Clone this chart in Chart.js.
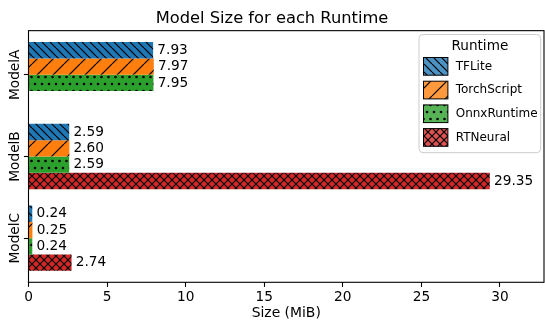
<!DOCTYPE html>
<html>
<head>
<meta charset="utf-8">
<script src="https://cdn.jsdelivr.net/npm/chart.js@4.4.1/dist/chart.umd.min.js"></script>
<style>
    html, body { margin: 0; padding: 0; background: #fff; }
</style>
</head>
<body>
<canvas id="tamanoCanvas" width="545" height="320"></canvas>
<script>
// datos (MiB)
const modelos = ['ModelA', 'ModelB', 'ModelC'];
const runtimes = ['TFLite', 'TorchScript', 'OnnxRuntime', 'RTNeural'];
const tfliteMiB = [7.93, 2.59, 0.24];
const torchscriptMiB = [7.97, 2.60, 0.25];
const onnxMiB = [7.95, 2.59, 0.24];
const rtneuralMiB = [null, 29.35, 2.74];
const ticksX = [0, 5, 10, 15, 20, 25, 30];

const colores = ['#1f77b4', '#ff7f0e', '#2ca02c', '#d62728'];
const tramas = ['\\', '/', '.', 'x'];
const series = [tfliteMiB, torchscriptMiB, onnxMiB, rtneuralMiB];

Chart.defaults.font.family = "'DejaVu Sans', sans-serif";
Chart.defaults.color = '#000';

// crea un patron de rayado tipo matplotlib
function crearPatron(color, tipo, alpha) {
    const c = document.createElement('canvas');
    let w = 8, h = 8;
    if (tipo === '/') { w = 16; h = 16; }
    if (tipo === '.') { w = 7; h = 14; }
    c.width = w;
    c.height = h;
    const g = c.getContext('2d');
    g.fillStyle = '#fff';
    g.fillRect(0, 0, w, h);
    g.globalAlpha = alpha;
    g.fillStyle = color;
    g.fillRect(0, 0, w, h);
    g.globalAlpha = 1;
    g.strokeStyle = '#000';
    g.fillStyle = '#000';
    g.lineWidth = 1.2;
    const linea = (x1, y1, x2, y2) => {
        g.beginPath();
        g.moveTo(x1, y1);
        g.lineTo(x2, y2);
        g.stroke();
    };
    if (tipo === '\\' || tipo === 'x') {
        for (let k = -1; k <= 1; k++) linea(k * w, 0, k * w + w, h);
    }
    if (tipo === '/' || tipo === 'x') {
        for (let k = -1; k <= 1; k++) linea(k * w, h, k * w + w, 0);
    }
    if (tipo === '.') {
        [[0, 0], [w, 0], [0, h], [w, h], [w / 2, h / 2]].forEach(p => {
            g.beginPath();
            g.arc(p[0], p[1], 1.3, 0, Math.PI * 2);
            g.fill();
        });
    }
    return g.createPattern(c, 'repeat');
}

const patronesBarra = colores.map((col, i) => crearPatron(col, tramas[i], 1));
const patronesLeyenda = colores.map((col, i) => crearPatron(col, tramas[i], 0.8));

// etiquetas de valor al final de cada barra
const etiquetasBarras = {
    id: 'etiquetasBarras',
    afterDatasetsDraw(chart) {
        const ctx = chart.ctx;
        ctx.save();
        ctx.font = "13.7px 'DejaVu Sans'";
        ctx.fillStyle = '#000';
        ctx.textAlign = 'left';
        ctx.textBaseline = 'middle';
        chart.data.datasets.forEach((ds, i) => {
            const meta = chart.getDatasetMeta(i);
            meta.data.forEach((el, j) => {
                const v = series[i][j];
                if (v === null) return;
                ctx.fillText(v.toFixed(2), el.x + 4.2, el.y);
            });
        });
        ctx.restore();
    }
};

// marco completo y etiquetas rotadas del eje y
const marcoEjes = {
    id: 'marcoEjes',
    afterDatasetsDraw(chart) {
        const ctx = chart.ctx;
        const a = chart.chartArea;
        ctx.save();
        ctx.strokeStyle = '#000';
        ctx.lineWidth = 1.1;
        ctx.strokeRect(a.left, a.top, a.right - a.left, a.bottom - a.top);

        const ys = chart.scales.y;
        ctx.font = "13.7px 'DejaVu Sans'";
        ctx.fillStyle = '#000';
        ctx.textAlign = 'center';
        ctx.textBaseline = 'alphabetic';
        modelos.forEach((m, i) => {
            ctx.save();
            ctx.translate(19, ys.getPixelForValue(i));
            ctx.rotate(-Math.PI / 2);
            ctx.fillText(m, 0, 0);
            ctx.restore();
        });
        ctx.restore();
    }
};

// leyenda dentro del area, arriba a la derecha
const leyendaRuntime = {
    id: 'leyendaRuntime',
    afterDraw(chart) {
        const ctx = chart.ctx;
        const x0 = 419, y0 = 34.5, x1 = 540.7, y1 = 152.7, r = 4;
        ctx.save();
        ctx.beginPath();
        ctx.moveTo(x0 + r, y0);
        ctx.lineTo(x1 - r, y0);
        ctx.quadraticCurveTo(x1, y0, x1, y0 + r);
        ctx.lineTo(x1, y1 - r);
        ctx.quadraticCurveTo(x1, y1, x1 - r, y1);
        ctx.lineTo(x0 + r, y1);
        ctx.quadraticCurveTo(x0, y1, x0, y1 - r);
        ctx.lineTo(x0, y0 + r);
        ctx.quadraticCurveTo(x0, y0, x0 + r, y0);
        ctx.closePath();
        ctx.fillStyle = 'rgba(255,255,255,0.8)';
        ctx.fill();
        ctx.strokeStyle = '#cccccc';
        ctx.lineWidth = 1;
        ctx.stroke();

        ctx.fillStyle = '#000';
        ctx.font = "13.6px 'DejaVu Sans'";
        ctx.textAlign = 'center';
        ctx.textBaseline = 'alphabetic';
        ctx.fillText('Runtime', (x0 + x1) / 2, 49.5);

        ctx.font = "12px 'DejaVu Sans'";
        ctx.textAlign = 'left';
        ctx.textBaseline = 'middle';
        runtimes.forEach((nombre, i) => {
            const top = 57.5 + i * 23.7;
            ctx.fillStyle = patronesLeyenda[i];
            ctx.fillRect(423.5, top, 24.4, 17.7);
            ctx.strokeStyle = '#000';
            ctx.lineWidth = 1;
            ctx.strokeRect(423.5, top, 24.4, 17.7);
            ctx.fillStyle = '#000';
            ctx.fillText(nombre, 455.7, top + 9);
        });
        ctx.restore();
    }
};

const ctx = document.getElementById('tamanoCanvas').getContext('2d');

const graficoTamano = new Chart(ctx, {
    type: 'bar',
    data: {
        datasets: runtimes.map((nombre, i) => ({
            label: nombre,
            data: series[i].map((v, j) => ({ x: v, y: j })),
            backgroundColor: patronesBarra[i],
            borderWidth: 0,
            categoryPercentage: 0.8,
            barPercentage: 1.0
        }))
    },
    options: {
        indexAxis: 'y',
        responsive: false,
        animation: false,
        devicePixelRatio: 1,
        layout: { padding: { left: 0, right: 1, top: 0, bottom: 0 } },
        scales: {
            x: {
                type: 'linear',
                min: 0,
                max: 32.8,
                offset: false,
                afterBuildTicks: axis => {
                    axis.ticks = ticksX.map(v => ({ value: v }));
                },
                afterFit: axis => { axis.height = 37.7; },
                ticks: {
                    font: { size: 13.7 },
                    padding: 2,
                    color: '#000'
                },
                grid: {
                    offset: false,
                    drawOnChartArea: false,
                    drawTicks: true,
                    tickLength: 4.6,
                    tickWidth: 1.1,
                    tickColor: '#000'
                },
                border: { display: false },
                title: {
                    display: true,
                    text: 'Size (MiB)',
                    color: '#000',
                    font: { size: 13.9, lineHeight: 1 },
                    padding: { top: 0, bottom: 0 }
                }
            },
            y: {
                type: 'linear',
                reverse: true,
                offset: false,
                bounds: 'data',
                min: -0.54,
                max: 2.54,
                afterBuildTicks: axis => {
                    axis.ticks = modelos.map((_, i) => ({ value: i }));
                },
                afterFit: axis => { axis.width = 28.5; },
                ticks: { display: false },
                grid: {
                    offset: false,
                    drawOnChartArea: false,
                    drawTicks: true,
                    tickLength: 4.6,
                    tickWidth: 1.1,
                    tickColor: '#000'
                },
                border: { display: false }
            }
        },
        plugins: {
            legend: { display: false },
            tooltip: { enabled: false },
            title: {
                display: true,
                text: 'Model Size for each Runtime',
                color: '#000',
                font: { size: 16.3, weight: 'normal' },
                padding: { top: 8.6, bottom: 2.5 }
            }
        }
    },
    plugins: [etiquetasBarras, marcoEjes, leyendaRuntime]
});
</script>
</body>
</html>
